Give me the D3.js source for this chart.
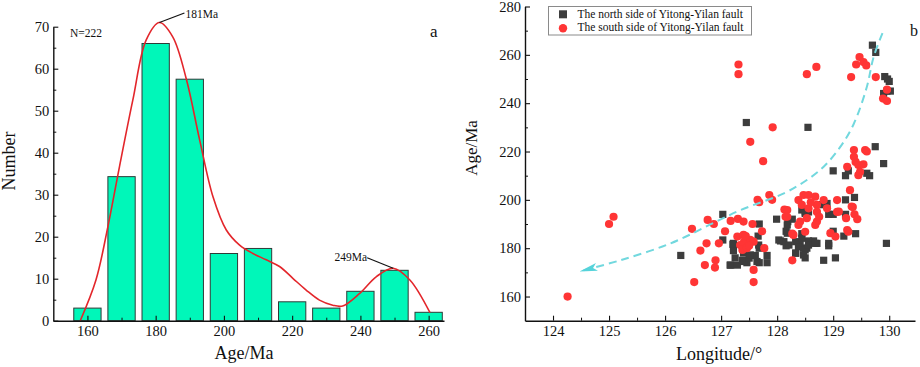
<!DOCTYPE html>
<html><head><meta charset="utf-8">
<script src="https://cdn.jsdelivr.net/npm/d3@7"></script>
<style>
body{margin:0;background:#fff}
svg{display:block}
text{font-family:"Liberation Serif","Times New Roman",serif;fill:#111}
</style></head>
<body><svg id="c" width="920" height="367"></svg>
<script>
// ---------- Panel a: histogram ----------
const binAges   = [160,170,180,190,200,210,220,230,240,250,260];
const binCounts = [3,34.3,66,57.5,16,17.2,4.5,3,7,12,2];
const densityAges   = [157.9,162.5,166,169.4,173.3,177.2,181.1,185,189,192.9,196.8,200.7,204.6,208.5,212.4,216.3,220.2,224.1,228,231.9,234.8,239.8,244.7,249.6,254.5,260.4];
const densityValues = [0,9.7,22.4,36.7,52.5,66.8,71,67.6,57.5,43,29.5,21.6,18,16,14.5,12.9,10.1,7.3,4.9,3.7,3.5,6.5,10.5,12.5,9.7,1.9];
const histXTicks = [160,180,200,220,240,260];
const histXMinor = [170,190,210,230,250];
const histYTicks = [0,10,20,30,40,50,60,70];
const histYMinor = [5,15,25,35,45,55,65];
const peakAges   = [181.1,249.6];
const peakValues = [71,12.5];
const peakLabels = ["181Ma","249Ma"];

// ---------- Panel b: scatter ----------
const northSide = [
[126.28,177],[127.03,194],[127.45,232],[128.55,230],[129.0,212],[129.22,210],[129.27,212],[129.6,211],[129.65,210],[129.75,222],[129.9,215],[129.95,182],
[129.7,264],[129.76,261],[129.92,251],[129.97,250],[130.0,249],[129.96,245],[130.02,245],[129.9,244],
[129.22,200],[129.38,201],[129.4,186],[129.19,185],[129.22,194],[129.04,176],[128.83,175],[128.92,181],[128.92,182],[128.71,182],[129.0,187],[129.0,194],[128.92,194],[128.89,198.5],[128.77,198],
[127.99,192],[128.06,183],[128.16,181],[128.16,187],[128.19,191],[128.27,192],[128.33,178],[128.41,182],[128.47,180],[128.5,176],[128.53,180],[128.44,186],[128.5,195],[128.56,195],[128.65,183],[128.56,183],
[128.12,182.7],[128.03,183.4],[128.21,181.3],[128.33,182.7],[128.38,180.6],[128.44,184.1],[128.5,179.3],[128.47,177.2],[128.33,177.9],[128.56,181.3],[128.68,182],[128.44,195.8],[128.5,194.4],[128.18,189.6],[128.18,186.2],
[127.17,173],[127.29,173],[127.25,176],[127.22,182],[127.22,179],[127.38,175],[127.4,178],[127.46,174],[127.53,177],[127.61,177],[127.68,180],[127.68,190],[127.66,185],[127.68,174],[127.82,177],[127.82,174],
[127.03,183.4],[127.21,181.6],[127.16,173],[127.41,174.5],[127.5,175.9],[127.64,174.5],[127.52,177.2],[127.67,181.3]
];
const southSide = [
[124.26,160],[125.0,190],[125.08,193],[126.48,188],[126.52,166],[126.63,179],[126.71,173],[126.74,182],[126.76,191.7],[126.87,190],[126.9,175],[126.89,172],[126.96,182],[127.07,187],
[127.17,191.3],[127.3,192.1],[127.4,191],[127.56,190],[127.31,256],[127.31,252],[127.52,224],[127.75,216],[127.58,166],[127.58,171],[127.73,187],[127.77,180],[127.65,200],[127.68,199],
[127.92,230],[127.86,202],[127.91,200],[128.13,196],[128.15,193],[128.27,186],[128.27,175],[128.53,252],[128.7,255],
[127.29,184.8],[127.4,185.5],[127.41,182.7],[127.34,181.3],[127.38,179.3],[127.46,180],[127.52,183.4],[127.58,182.7],[127.44,185],[127.5,181],
[128.38,199.9],[128.47,202],[128.56,202],[128.44,197.9],[128.56,196.5],[128.68,201.3],[128.71,197.9],[128.71,195],[128.71,191],[128.68,189.6],[128.83,199.9],[128.89,196.5],[129.07,199.9],[129.07,195],
[128.41,191],[128.38,189.6],[128.5,186.8],[128.53,192.4],[128.29,185.5],[128.95,186.2],[129.04,184.8],[128.18,195.8],[128.18,193],[128.6,199],[128.75,193],
[129.23,192.4],[129.25,187.5],[129.3,204],[129.35,197],[129.38,194],[129.43,192],[129.37,220.6],[129.37,217.8],[129.57,220.6],[129.4,215.7],[129.45,214.4],[129.54,214.7],[129.25,213.7],[129.45,210.2],[129.48,211.6],[129.33,197.2],[129.1,195.1],[129.27,186.8],
[129.32,250.8],[129.41,256],[129.47,259.1],[129.54,257],[129.59,255.6],[129.76,250.8],[129.96,245.6],[129.89,241.9],[129.96,240.9],[129.6,220]
];
const trendLon = [129.88,129.72,129.6,129.37,129.13,128.83,128.53,128.12,127.35,126.87,126.1,125.2,124.49];
const trendAge = [269,259,246.7,231.6,222,213.7,208.2,202.7,195.8,190.5,182,175,170.5];
const scatXTicks = [124,125,126,127,128,129,130];
const scatXMinor = [124.5,125.5,126.5,127.5,128.5,129.5];
const scatYTicks = [160,180,200,220,240,260,280];
const scatYMinor = [170,190,210,230,250,270];
const legendLabels = ["The north side of Yitong-Yilan fault","The south side of Yitong-Yilan fault"];

const svg = d3.select("#c");
const FONT = '"Liberation Serif","Times New Roman",serif';
const fmt = d3.format("d");

function styleAxis(g, fs){
  g.attr("font-family",null).attr("font-size",null);
  g.selectAll("path.domain").attr("stroke","#111").attr("stroke-width",1.4);
  g.selectAll(".tick line").attr("stroke","#111").attr("stroke-width",1.1);
  g.selectAll(".tick text").style("font-family",FONT).style("font-size",fs).attr("fill","#222");
}

// ===== Panel a =====
const xH = d3.scaleLinear([150,264.5],[53.3,444]);
const yH = d3.scaleLinear([0,70],[320.7,26.7]);
const gA = svg.append("g");

gA.selectAll("rect.bar").data(binAges).join("rect")
  .attr("x", d=>xH(d-4)).attr("width", d=>xH(d+4)-xH(d-4))
  .attr("y", (d,i)=>yH(binCounts[i])).attr("height",(d,i)=>yH(0)-yH(binCounts[i]))
  .attr("fill","#00f7b9").attr("stroke","#2f3b38").attr("stroke-width",1);

const dens = d3.line().x(d=>xH(d[0])).y(d=>yH(d[1])).curve(d3.curveCatmullRom.alpha(0.5));
gA.append("path").datum(densityAges.map((a,i)=>[a,densityValues[i]]))
  .attr("d",dens).attr("fill","none").attr("stroke","#e3262b").attr("stroke-width",1.6);

// axes
const axYa = gA.append("g").attr("transform",`translate(${xH(150)},0)`)
  .call(d3.axisLeft(yH).tickValues(histYTicks).tickFormat(fmt).tickSize(-5).tickSizeOuter(0).tickPadding(4));
styleAxis(axYa,"14.5px");
gA.append("g").attr("transform",`translate(${xH(150)},0)`)
  .call(d3.axisLeft(yH).tickValues(histYMinor).tickSize(-3).tickSizeOuter(0).tickFormat(""))
  .call(g=>{g.select(".domain").remove();g.selectAll("line").attr("stroke","#111");});
const axXa = gA.append("g").attr("transform",`translate(0,${yH(0)})`)
  .call(d3.axisBottom(xH).tickValues(histXTicks).tickFormat(fmt).tickSize(-5).tickSizeOuter(0).tickPadding(5));
styleAxis(axXa,"14.5px");
gA.append("g").attr("transform",`translate(0,${yH(0)})`)
  .call(d3.axisBottom(xH).tickValues(histXMinor).tickSize(-3).tickSizeOuter(0).tickFormat(""))
  .call(g=>{g.select(".domain").remove();g.selectAll("line").attr("stroke","#111");});

// peak labels
peakAges.forEach((a,i)=>{
  const px=xH(a), py=yH(peakValues[i]);
  if(i===0){
    gA.append("line").attr("x1",px).attr("y1",py).attr("x2",px+25).attr("y2",py-9.5).attr("stroke","#111").attr("stroke-width",1.2);
    gA.append("text").attr("x",px+26).attr("y",py-5).attr("font-size","11.5px").text(peakLabels[i]);
  } else {
    gA.append("line").attr("x1",px).attr("y1",py).attr("x2",px-26).attr("y2",py-10.5).attr("stroke","#111").attr("stroke-width",1.2);
    gA.append("text").attr("x",px-26).attr("y",py-7).attr("text-anchor","end").attr("font-size","11.5px").text(peakLabels[i]);
  }
});
gA.append("text").attr("x",70).attr("y",37).attr("font-size","11.5px").text("N=222");
gA.append("text").attr("x",430).attr("y",37).attr("font-size","17px").text("a");
gA.append("text").attr("x",244).attr("y",359).attr("text-anchor","middle").attr("font-size","18px").text("Age/Ma");
gA.append("text").attr("transform","translate(15,161) rotate(-90)").attr("text-anchor","middle").attr("font-size","18px").text("Number");

// ===== Panel b =====
const xS = d3.scaleLinear([123.5,130.46],[525,915]);
const yS = d3.scaleLinear([150,280],[320.7,6.5]);
const gB = svg.append("g");

const axYb = gB.append("g").attr("transform",`translate(${xS(123.5)},0)`)
  .call(d3.axisLeft(yS).tickValues(scatYTicks).tickFormat(fmt).tickSize(-5).tickSizeOuter(0).tickPadding(4));
styleAxis(axYb,"14.5px");
gB.append("g").attr("transform",`translate(${xS(123.5)},0)`)
  .call(d3.axisLeft(yS).tickValues(scatYMinor).tickSize(-3).tickSizeOuter(0).tickFormat(""))
  .call(g=>{g.select(".domain").remove();g.selectAll("line").attr("stroke","#111");});
const axXb = gB.append("g").attr("transform",`translate(0,${yS(150)})`)
  .call(d3.axisBottom(xS).tickValues(scatXTicks).tickFormat(fmt).tickSize(-5).tickSizeOuter(0).tickPadding(5));
styleAxis(axXb,"14.5px");
gB.append("g").attr("transform",`translate(0,${yS(150)})`)
  .call(d3.axisBottom(xS).tickValues(scatXMinor).tickSize(-3).tickSizeOuter(0).tickFormat(""))
  .call(g=>{g.select(".domain").remove();g.selectAll("line").attr("stroke","#111");});

const SQ = 7.2;
gB.selectAll("rect.n").data(northSide).join("rect")
  .attr("x",d=>xS(d[0])-SQ/2).attr("y",d=>yS(d[1])-SQ/2).attr("width",SQ).attr("height",SQ)
  .attr("fill","#3d3d3d");
gB.selectAll("circle.s").data(southSide).join("circle")
  .attr("cx",d=>xS(d[0])).attr("cy",d=>yS(d[1])).attr("r",4.1)
  .attr("fill","#ff3535");

// trend arrow
svg.append("defs").append("marker").attr("id","arr")
  .attr("viewBox","0 0 18 8").attr("refX",17).attr("refY",4)
  .attr("markerWidth",18).attr("markerHeight",8).attr("markerUnits","userSpaceOnUse").attr("orient","auto")
  .append("path").attr("d","M0,0 L18,4 L0,8 L4,4 Z").attr("fill","#56d3da");
const tl = d3.line().x(d=>xS(d[0])).y(d=>yS(d[1])).curve(d3.curveCatmullRom.alpha(0.5));
gB.append("path").datum(trendLon.map((l,i)=>[l,trendAge[i]]))
  .attr("d",tl).attr("fill","none").attr("stroke","#72d8de").attr("stroke-width",2)
  .attr("stroke-dasharray","8,5").attr("marker-end","url(#arr)");

// legend
const lg = gB.append("g");
lg.append("rect").attr("x",548.5).attr("y",6.5).attr("width",203).attr("height",28.5)
  .attr("fill","#fff").attr("stroke","#8a8a8a").attr("stroke-width",1);
lg.append("rect").attr("x",559).attr("y",10.3).attr("width",8).attr("height",8).attr("fill","#3d3d3d");
lg.append("circle").attr("cx",563).attr("cy",28.3).attr("r",4.2).attr("fill","#ff3535");
legendLabels.forEach((t,i)=>{
  lg.append("text").attr("x",577.5).attr("y",18+i*13.3).attr("font-size","11.5px").text(t);
});

gB.append("text").attr("x",910).attr("y",36).attr("font-size","16px").text("b");
gB.append("text").attr("x",719).attr("y",360).attr("text-anchor","middle").attr("font-size","18px").text("Longitude/°");
gB.append("text").attr("transform","translate(477,148) rotate(-90)").attr("text-anchor","middle").attr("font-size","17px").text("Age/Ma");
</script></body></html>
